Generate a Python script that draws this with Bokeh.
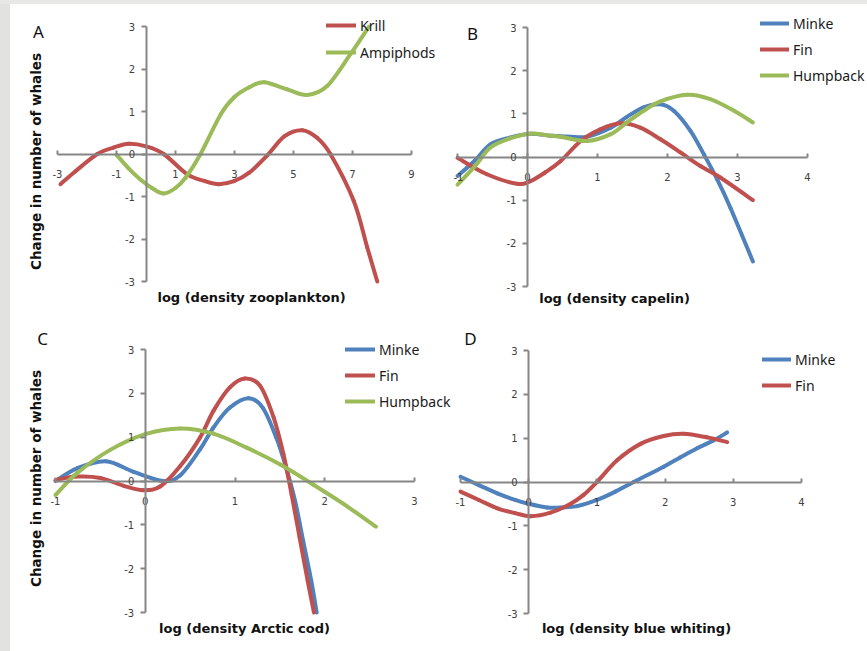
from math import pi
from bokeh.plotting import figure
from bokeh.models import (LinearAxis, FixedTicker, Range1d, Label, Legend, LegendItem, Spacer,
                          PrintfTickFormatter)
from bokeh.layouts import row, column
from bokeh.embed import file_html
from bokeh.resources import INLINE

RED = "#c0504d"
GREEN = "#9bbb59"
BLUE = "#4f81bd"

# ---- Panel A: zooplankton ----
a_krill_x = [-2.9, -2.4, -1.65, -1.1, -0.58, 0.0, 0.6, 1.4, 2.0, 2.47, 2.98, 3.5, 4.1, 4.7, 5.3, 5.8, 6.25, 7.04, 7.5, 7.84]
a_krill_y = [-0.71, -0.41, 0.0, 0.15, 0.24, 0.18, 0.0, -0.48, -0.64, -0.71, -0.64, -0.44, -0.04, 0.42, 0.56, 0.38, 0.0, -1.1, -2.2, -3.0]
a_amph_x = [-1.0, -0.6, -0.19, 0.2, 0.6, 1.0, 1.34, 1.85, 2.53, 2.98, 3.5, 4.0, 4.79, 5.46, 6.14, 6.93, 7.55]
a_amph_y = [-0.02, -0.33, -0.6, -0.8, -0.93, -0.8, -0.56, 0.0, 0.93, 1.33, 1.57, 1.69, 1.52, 1.39, 1.6, 2.35, 2.99]
a_xticks = [-3, -1, 1, 3, 5, 7, 9]

# ---- Panel B: capelin ----
b_minke_x = [-1.0, -0.75, -0.53, -0.25, 0.04, 0.35, 0.61, 0.85, 1.19, 1.42, 1.66, 1.9, 2.09, 2.33, 2.52, 2.71, 2.9, 3.22]
b_minke_y = [-0.44, -0.08, 0.29, 0.45, 0.54, 0.49, 0.47, 0.47, 0.68, 0.93, 1.15, 1.22, 1.07, 0.6, 0.06, -0.52, -1.18, -2.42]
b_fin_x = [-1.0, -0.58, -0.15, 0.04, 0.25, 0.47, 0.76, 1.04, 1.33, 1.61, 1.9, 2.19, 2.47, 2.76, 3.22]
b_fin_y = [-0.02, -0.4, -0.62, -0.56, -0.36, -0.1, 0.37, 0.64, 0.78, 0.68, 0.41, 0.1, -0.21, -0.48, -1.0]
b_hump_x = [-1.0, -0.75, -0.53, -0.25, 0.04, 0.3, 0.47, 0.85, 1.19, 1.42, 1.66, 1.9, 2.28, 2.61, 2.95, 3.22]
b_hump_y = [-0.64, -0.21, 0.22, 0.43, 0.54, 0.5, 0.47, 0.37, 0.53, 0.8, 1.07, 1.29, 1.44, 1.34, 1.07, 0.8]
b_xticks = [-1, 0, 1, 2, 3, 4]

# ---- Panel C: Arctic cod ----
c_minke_x = [-1.0, -0.76, -0.44, -0.13, 0.2, 0.39, 0.61, 0.76, 0.94, 1.15, 1.31, 1.46, 1.57, 1.67, 1.76, 1.85, 1.91]
c_minke_y = [0.0, 0.29, 0.45, 0.21, 0.0, 0.13, 0.72, 1.22, 1.67, 1.89, 1.67, 0.99, 0.3, -0.46, -1.37, -2.28, -3.0]
c_fin_x = [-1.0, -0.77, -0.5, -0.24, -0.02, 0.17, 0.39, 0.61, 0.76, 0.94, 1.11, 1.28, 1.43, 1.54, 1.63, 1.72, 1.81, 1.88]
c_fin_y = [0.02, 0.1, 0.07, -0.11, -0.21, -0.12, 0.34, 0.99, 1.6, 2.13, 2.34, 2.17, 1.45, 0.61, -0.3, -1.29, -2.28, -3.0]
c_hump_x = [-1.0, -0.76, -0.39, 0.0, 0.39, 0.76, 1.13, 1.5, 1.87, 2.2, 2.57]
c_hump_y = [-0.32, 0.18, 0.71, 1.07, 1.2, 1.08, 0.76, 0.38, -0.08, -0.51, -1.04]
c_xticks = [-1, 0, 1, 2, 3]

# ---- Panel D: blue whiting ----
d_minke_x = [-1.0, -0.73, -0.46, -0.2, -0.02, 0.27, 0.5, 0.71, 1.0, 1.27, 1.54, 1.98, 2.22, 2.47, 2.7, 2.91]
d_minke_y = [0.12, -0.07, -0.26, -0.41, -0.49, -0.58, -0.58, -0.55, -0.41, -0.22, 0.0, 0.35, 0.56, 0.77, 0.94, 1.13]
d_fin_x = [-1.0, -0.73, -0.46, -0.2, 0.03, 0.32, 0.61, 0.8, 1.0, 1.3, 1.64, 1.98, 2.27, 2.61, 2.91]
d_fin_y = [-0.22, -0.41, -0.6, -0.71, -0.78, -0.7, -0.5, -0.3, 0.0, 0.5, 0.87, 1.05, 1.1, 1.02, 0.91]
d_xticks = [-1, 0, 1, 2, 3, 4]

y_ticks = [-3, -2, -1, 0, 1, 2, 3]

AXIS_COLOR = "#868686"
TICK_TEXT = "#404040"
TITLE_FONT = "DejaVu Sans"
LEG_FONT = "Noto Sans"


def smooth_segments(xs, ys):
    """Cubic Bezier control points (Catmull-Rom style) so the drawn line is smoothed
    like a spreadsheet 'smoothed line'; the curve passes through every data point."""
    n = len(xs)
    x0, y0, x1, y1, cx0, cy0, cx1, cy1 = [], [], [], [], [], [], [], []
    for i in range(n - 1):
        im = max(i - 1, 0)
        ip = min(i + 2, n - 1)
        x0.append(xs[i]); y0.append(ys[i])
        x1.append(xs[i + 1]); y1.append(ys[i + 1])
        cx0.append(xs[i] + (xs[i + 1] - xs[im]) / 6.0)
        cy0.append(ys[i] + (ys[i + 1] - ys[im]) / 6.0)
        cx1.append(xs[i + 1] - (xs[ip] - xs[i]) / 6.0)
        cy1.append(ys[i + 1] - (ys[ip] - ys[i]) / 6.0)
    return dict(x0=x0, y0=y0, x1=x1, y1=y1, cx0=cx0, cy0=cy0, cx1=cx1, cy1=cy1)


def panel(width, height, frame_box, xr, xticks, series, letter, letter_pos,
          xtitle, xtitle_pos, legend_geom, ytitle_pos=None):
    # frame_box: pixel distances (left, right, top, bottom) from the figure edges
    # to the ends of the axes
    left, right, top, bottom = frame_box
    xmin, xmax = xr
    ppx = (width - left - right) / (xmax - xmin)
    ppy = (height - top - bottom) / 6.0
    p = figure(width=width, height=height, output_backend="svg", toolbar_location=None,
               x_range=Range1d(xmin - left / ppx, xmax + right / ppx),
               y_range=Range1d(-3 - bottom / ppy, 3 + top / ppy),
               x_axis_type=None, y_axis_type=None,
               min_border_left=0, min_border_right=0,
               min_border_top=0, min_border_bottom=0)
    p.outline_line_color = None
    p.background_fill_color = "white"
    p.border_fill_color = "white"
    p.xgrid.visible = False
    p.ygrid.visible = False

    xa = LinearAxis(ticker=FixedTicker(ticks=xticks), fixed_location=0, bounds=(xmin, xmax),
                    formatter=PrintfTickFormatter(format="%d"),
                    axis_line_color=AXIS_COLOR, axis_line_width=2,
                    major_tick_line_color=AXIS_COLOR, major_tick_line_width=2,
                    major_tick_in=4, major_tick_out=0, minor_tick_line_color=None,
                    major_label_text_font=TITLE_FONT, major_label_text_font_size="10px",
                    major_label_text_color=TICK_TEXT, major_label_standoff=16)
    ya = LinearAxis(ticker=FixedTicker(ticks=y_ticks), fixed_location=0, bounds=(-3, 3),
                    formatter=PrintfTickFormatter(format="%d"),
                    axis_line_color=AXIS_COLOR, axis_line_width=2,
                    major_tick_line_color=AXIS_COLOR, major_tick_line_width=2,
                    major_tick_in=0, major_tick_out=5, minor_tick_line_color=None,
                    major_label_text_font=TITLE_FONT, major_label_text_font_size="10px",
                    major_label_text_color=TICK_TEXT, major_label_standoff=6)
    p.add_layout(xa, "below")
    p.add_layout(ya, "left")

    items = []
    for name, xs, ys, color in series:
        r = p.bezier(source=smooth_segments(xs, ys), x0="x0", y0="y0", x1="x1", y1="y1",
                     cx0="cx0", cy0="cy0", cx1="cx1", cy1="cy1",
                     line_color=color, line_width=4, line_cap="round")
        items.append(LegendItem(label=name, renderers=[r]))

    vx, vy, gw, sp = legend_geom
    leg = Legend(items=items, location=(vx, vy), padding=0, margin=0, spacing=sp,
                 glyph_width=gw, glyph_height=20, label_height=20, label_standoff=4,
                 label_text_font=LEG_FONT, label_text_font_size="14px",
                 label_text_color="#1a1a1a", border_line_color=None,
                 background_fill_alpha=0)
    p.add_layout(leg)

    p.add_layout(Label(x=letter_pos[0], y=letter_pos[1], x_units="screen", y_units="screen",
                       text=letter, text_font=LEG_FONT, text_font_size="17px",
                       text_color="#111111", text_align="center", text_baseline="middle"))
    p.add_layout(Label(x=xtitle_pos[0], y=xtitle_pos[1], x_units="screen", y_units="screen",
                       text=xtitle, text_font=TITLE_FONT, text_font_size="13px",
                       text_font_style="bold", text_color="#111111",
                       text_align="center", text_baseline="middle"))
    if ytitle_pos is not None:
        p.add_layout(Label(x=ytitle_pos[0], y=ytitle_pos[1], x_units="screen", y_units="screen",
                           text="Change in number of whales", text_font=TITLE_FONT,
                           text_font_size="13.5px", text_font_style="bold", text_color="#111111",
                           angle=pi / 2, text_align="center", text_baseline="middle"))
    return p


pA = panel(443, 314, (47, 42, 22, 37), (-3, 9), a_xticks,
           [("Krill", a_krill_x, a_krill_y, RED), ("Ampiphods", a_amph_x, a_amph_y, GREEN)],
           "A", (28, 287), "log (density zooplankton)", (241, 21), (316, 256, 30, 7),
           ytitle_pos=(25, 157))
pB = panel(414, 314, (4, 60, 23, 32), (-1, 4), b_xticks,
           [("Minke", b_minke_x, b_minke_y, BLUE), ("Fin", b_fin_x, b_fin_y, RED),
            ("Humpback", b_hump_x, b_hump_y, GREEN)],
           "B", (19, 285), "log (density capelin)", (161, 20), (307, 233, 29, 6))
pC = panel(443, 333, (45, 39, 31, 39), (-1, 3), c_xticks,
           [("Minke", c_minke_x, c_minke_y, BLUE), ("Fin", c_fin_x, c_fin_y, RED),
            ("Humpback", c_hump_x, c_hump_y, GREEN)],
           "C", (32, 313), "log (density Arctic cod)", (234, 23), (335, 240, 30, 6),
           ytitle_pos=(25, 173))
pD = panel(414, 333, (7, 66, 32, 38), (-1, 4), d_xticks,
           [("Minke", d_minke_x, d_minke_y, BLUE), ("Fin", d_fin_x, d_fin_y, RED)],
           "D", (17, 313), "log (density blue whiting)", (183, 23), (309, 256, 29, 6))

top_strip = Spacer(width=867, height=4, styles={"background-color": "#e8e8e6"})
left_strip = Spacer(width=10, height=647, styles={"background-color": "#e2e2e0"})
grid = column(row(pA, pB), row(pC, pD))
layout = column(top_strip, row(left_strip, grid))

open("out.html", "w").write(file_html(layout, INLINE))
